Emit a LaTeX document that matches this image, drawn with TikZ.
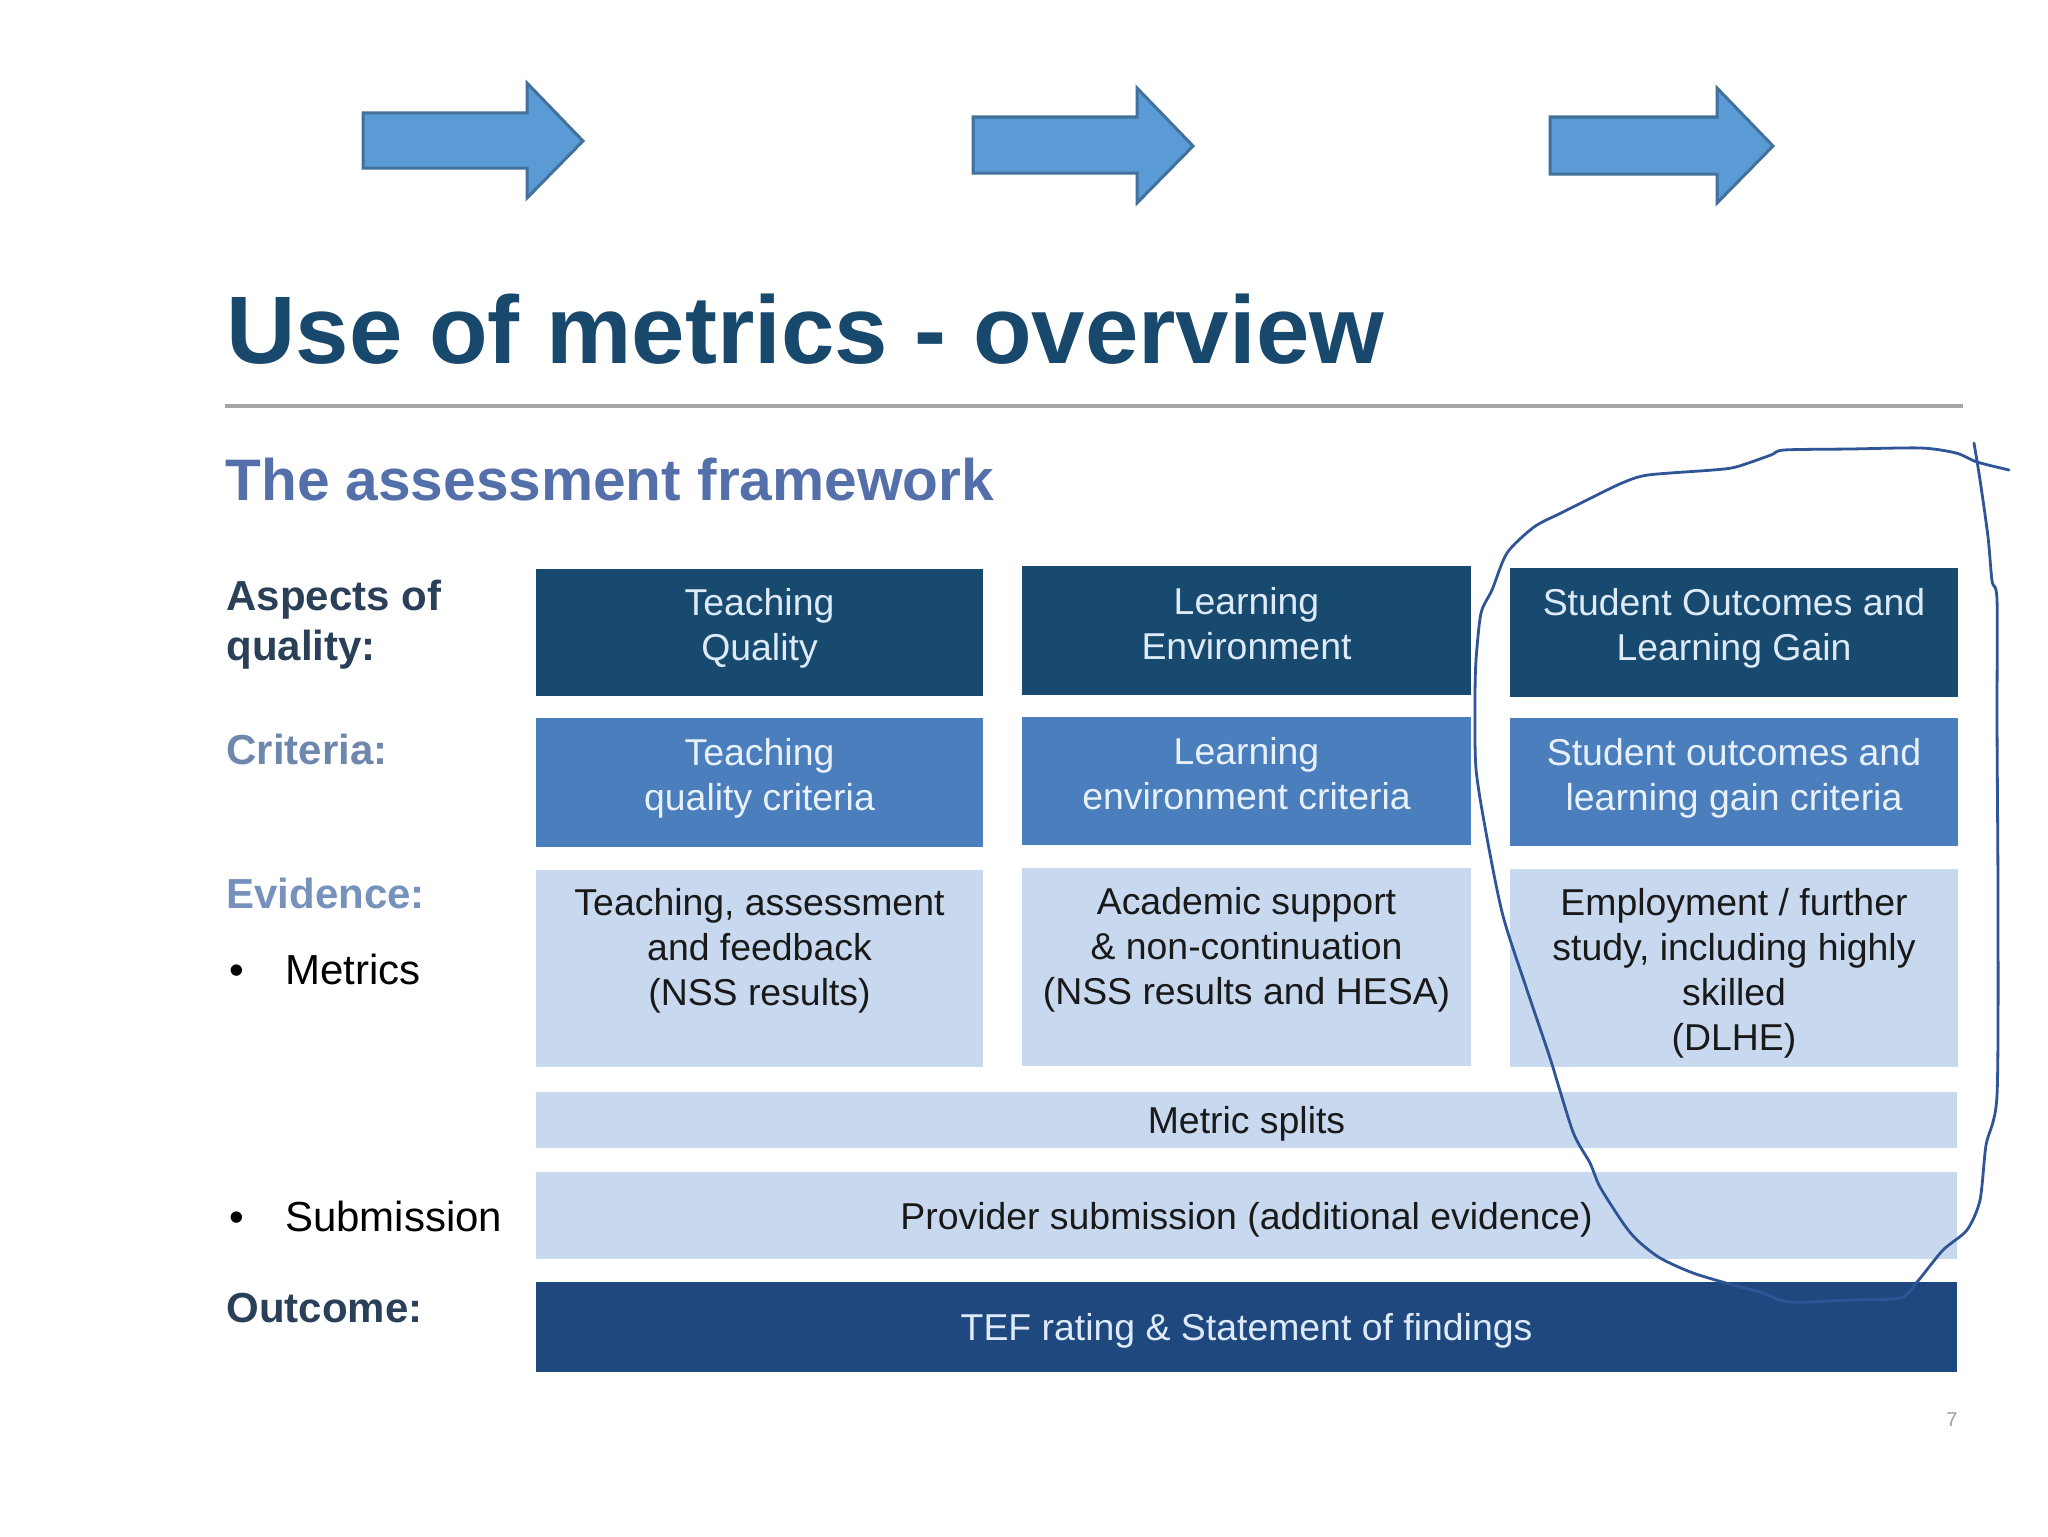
\documentclass[tikz,border=0pt]{standalone}
\usepackage{fontspec}
\setmainfont{Liberation Sans}
\usetikzlibrary{fit,calc}
\definecolor{titleblue}{RGB}{24,72,108}
\definecolor{subblue}{RGB}{84,112,170}
\definecolor{darkbox}{RGB}{23,74,110}
\definecolor{midbox}{RGB}{74,126,188}
\definecolor{lightbox}{RGB}{200,216,238}
\definecolor{outbox}{RGB}{30,72,126}
\definecolor{arrowfill}{RGB}{91,155,213}
\definecolor{arrowline}{RGB}{65,113,156}
\definecolor{penblue}{RGB}{47,85,151}
\definecolor{labdark}{RGB}{42,64,88}
\definecolor{lablight}{RGB}{110,135,172}
\definecolor{labevid}{RGB}{118,145,188}
\definecolor{boxtext}{RGB}{222,234,247}
\definecolor{midtext}{RGB}{232,240,250}
\definecolor{rulegray}{RGB}{165,165,165}
\begin{document}
\begin{tikzpicture}[x=0.5pt,y=-0.5pt,
  panel/.style={inner sep=0pt, outer sep=0pt, draw=none},
  darkpanel/.style={panel, fill=darkbox},
  midpanel/.style={panel, fill=midbox},
  lightpanel/.style={panel, fill=lightbox},
  outpanel/.style={panel, fill=outbox},
  btxt/.style={align=center, inner sep=0pt, font=\fontsize{18.7}{22.5}\selectfont},
  lab/.style={anchor=base west, inner sep=0pt, font=\bfseries\fontsize{21}{25}\selectfont},
  blt/.style={anchor=base west, inner sep=0pt, font=\fontsize{21}{22}\selectfont, text=black},
  bigarrow/.style={fill=arrowfill, draw=arrowline, line width=1.5pt, line join=miter}
]
\useasboundingbox (0,0) rectangle (2048,1536);
\fill[white] (0,0) rectangle (2048,1536);

% arrows
\draw[bigarrow] (363,113) -- (527,113) -- (527,83) -- (583,141) -- (527,198) -- (527,168) -- (363,168) -- cycle;
\draw[bigarrow] (973,117) -- (1137,117) -- (1137,88) -- (1193,146) -- (1137,203) -- (1137,173) -- (973,173) -- cycle;
\draw[bigarrow] (1550,117) -- (1717,117) -- (1717,88) -- (1773,146) -- (1717,203) -- (1717,174) -- (1550,174) -- cycle;

% title
\node[anchor=base west, inner sep=0pt, text=titleblue, font=\bfseries\fontsize{48}{50}\selectfont] (title) at (226,363) {Use of metrics - overview};
\draw[rulegray, line width=2pt] (225,406) -- (1963,406);
\node[anchor=base west, inner sep=0pt, text=subblue, font=\bfseries\fontsize{29.3}{32}\selectfont] (subtitle) at (225,500) {The assessment framework};

% row labels
\node[lab, anchor=north west, align=left, text=labdark] (laspects) at (226,580) {Aspects of\\quality:};
\node[lab, text=lablight] (lcrit) at (226,764) {Criteria:};
\node[lab, text=labevid] (levid) at (226,908) {Evidence:};
\node[blt] (lmetrics) at (229,984) {\textbullet\hspace{20.5pt}Metrics};
\node[blt] (lsub) at (229,1231) {\textbullet\hspace{20.5pt}Submission};
\node[lab, text=labdark] (lout) at (226,1322) {Outcome:};

% row 1
\node[darkpanel, fit={(536,569) (983,696)}] (a1) {};
\node[darkpanel, fit={(1022,566) (1471,695)}] (a2) {};
\node[darkpanel, fit={(1510,568) (1958,697)}] (a3) {};
\node[btxt, text=boxtext] (a1t) at ($(a1.center)+(0,-4)$) {Teaching\\Quality};
\node[btxt, text=boxtext] (a2t) at ($(a2.center)+(0,-7)$) {Learning\\Environment};
\node[btxt, text=boxtext] (a3t) at ($(a3.center)+(0,-4)$) {Student Outcomes and\\Learning Gain};

% row 2
\node[midpanel, fit={(536,718) (983,847)}] (b1) {};
\node[midpanel, fit={(1022,717) (1471,845)}] (b2) {};
\node[midpanel, fit={(1510,718) (1958,846)}] (b3) {};
\node[btxt, text=midtext] (b1t) at ($(b1.center)+(0,-4)$) {Teaching\\quality criteria};
\node[btxt, text=midtext] (b2t) at ($(b2.center)+(0,-7)$) {Learning\\environment criteria};
\node[btxt, text=midtext] (b3t) at ($(b3.center)+(0,-4)$) {Student outcomes and\\learning gain criteria};

% row 3
\node[lightpanel, fit={(536,870) (983,1067)}] (c1) {};
\node[lightpanel, fit={(1022,868) (1471,1066)}] (c2) {};
\node[lightpanel, fit={(1510,869) (1958,1067)}] (c3) {};
\node[btxt, anchor=north, text=black!90] (c1t) at ($(c1.north)+(0,18)$) {Teaching, assessment\\and feedback\\(NSS results)};
\node[btxt, anchor=north, text=black!90] (c2t) at ($(c2.north)+(0,19)$) {Academic support\\\& non-continuation\\(NSS results and HESA)};
\node[btxt, anchor=north, text=black!90] (c3t) at ($(c3.north)+(0,19)$) {Employment / further\\study, including highly\\skilled\\(DLHE)};

% full-width bars
\node[lightpanel, fit={(536,1092) (1957,1148)}] (ms) {};
\node[btxt, text=black!90] (mst) at ($(ms.center)+(0,4)$) {Metric splits};
\node[lightpanel, fit={(536,1172) (1957,1259)}] (ps) {};
\node[btxt, text=black!90] (pst) at ($(ps.center)+(0,4)$) {Provider submission (additional evidence)};
\node[outpanel, fit={(536,1282) (1957,1372)}] (tef) {};
\node[btxt, text=boxtext] (teft) at ($(tef.center)+(0,4)$) {TEF rating \& Statement of findings};

% page number
\node[inner sep=0pt, text=gray!75, font=\fontsize{10}{12}\selectfont] (pg) at (1952,1420) {7};

% hand-drawn loop
\draw[penblue, line width=1.4pt, line join=round, line cap=round]
  plot[smooth, tension=0.45] coordinates {
  (2009,470) (1977,462) (1956,453) (1921,448) (1850,449) (1784,450) (1771,455)
  (1736,467) (1713,470) (1648,475) (1622,483) (1587,500) (1561,513) (1534,527)
  (1507,553) (1492,590) (1481,613) (1476,660) (1475,700) (1476,769) (1487,838)
  (1503,916) (1527,990) (1550,1058) (1573,1132) (1590,1163) (1600,1187) (1623,1223)
  (1637,1240) (1660,1258) (1693,1273) (1733,1285) (1760,1292) (1790,1302) (1850,1300)
  (1900,1298) (1917,1282) (1943,1250) (1967,1230) (1980,1200) (1986,1145) (1997,1095)
  (1998,907) (1997,723) (1997,600) (1992,581) (1988,537) (1980,480) (1974,443)};
\end{tikzpicture}
\end{document}
